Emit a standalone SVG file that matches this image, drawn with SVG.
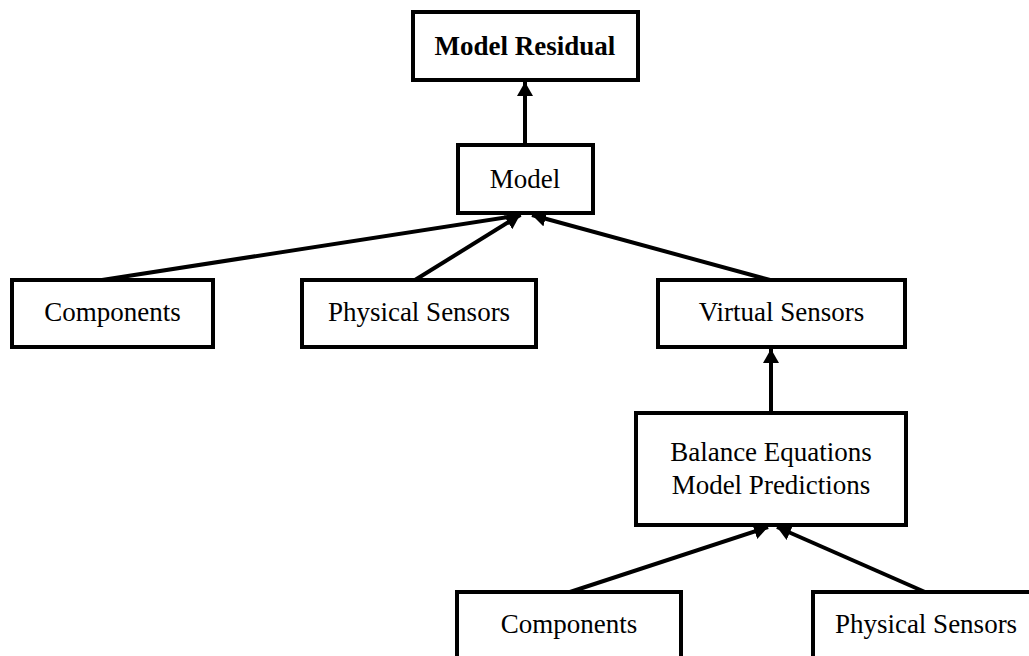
<svg xmlns="http://www.w3.org/2000/svg" width="1029" height="656" viewBox="0 0 1029 656">
<style>
.box{fill:#fff;stroke:#000;stroke-width:4}
.lbl{font-family:"Liberation Serif","Times New Roman",serif;font-size:27px;fill:#000;text-anchor:middle}
.bold{font-weight:bold}
.edge{stroke:#000;stroke-width:4;fill:none;marker-end:url(#arr)}
</style>
<defs>
<marker id="arr" markerUnits="userSpaceOnUse" markerWidth="16" markerHeight="18" refX="14" refY="8" orient="auto">
<path d="M0,0 L14,8 L0,16 z" fill="#000"/>
</marker>
</defs>
<rect width="1029" height="656" fill="#fff"/>
<g id="connectors">
<line class="edge" x1="525" y1="145" x2="525" y2="82"/>
<line class="edge" x1="102" y1="280" x2="521" y2="215"/>
<line class="edge" x1="415" y1="280" x2="520" y2="215"/>
<line class="edge" x1="770" y1="280" x2="532" y2="215"/>
<line class="edge" x1="771" y1="413" x2="771" y2="349"/>
<line class="edge" x1="570" y1="592" x2="768" y2="527"/>
<line class="edge" x1="925" y1="592" x2="777" y2="527"/>
</g>
<g id="model-residual">
<rect class="box" x="413" y="12" width="225" height="68"/>
<text class="lbl bold" x="525" y="55">Model Residual</text>
</g>
<g id="model">
<rect class="box" x="458" y="145" width="135" height="68"/>
<text class="lbl" x="525" y="188">Model</text>
</g>
<g id="components-top">
<rect class="box" x="12" y="280" width="201" height="67"/>
<text class="lbl" x="112.5" y="321">Components</text>
</g>
<g id="physical-sensors-top">
<rect class="box" x="302" y="280" width="234" height="67"/>
<text class="lbl" x="419" y="321">Physical Sensors</text>
</g>
<g id="virtual-sensors">
<rect class="box" x="658" y="280" width="247" height="67"/>
<text class="lbl" x="781.5" y="321">Virtual Sensors</text>
</g>
<g id="balance-equations">
<rect class="box" x="636" y="413" width="270" height="112"/>
<text class="lbl" x="771" y="461">Balance Equations</text>
<text class="lbl" x="771" y="494">Model Predictions</text>
</g>
<g id="components-bottom">
<rect class="box" x="457" y="592" width="224" height="67"/>
<text class="lbl" x="569" y="633">Components</text>
</g>
<g id="physical-sensors-bottom">
<rect class="box" x="813" y="592" width="226" height="67"/>
<text class="lbl" x="926" y="633">Physical Sensors</text>
</g>
</svg>
